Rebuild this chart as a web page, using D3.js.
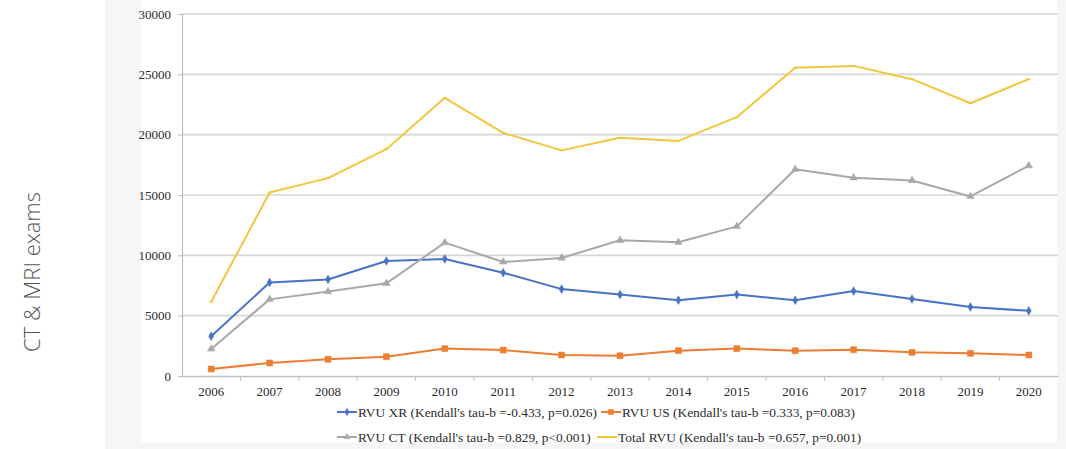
<!DOCTYPE html>
<html>
<head>
<meta charset="utf-8">
<script src="https://cdn.jsdelivr.net/npm/d3@7/dist/d3.min.js"></script>
<style>
  html, body { margin: 0; padding: 0; background: #ffffff; }
  svg { display: block; }
</style>
</head>
<body>
<svg id="chart" width="1066" height="449"></svg>
<script>
// Years on the category axis
const years = ["2006","2007","2008","2009","2010","2011","2012","2013","2014","2015","2016","2017","2018","2019","2020"];

// Relative value units per modality
const rvuXR    = [3300, 7750, 8000, 9530, 9700, 8560, 7200, 6750, 6280, 6750, 6280, 7040, 6380, 5720, 5400];
const rvuUS    = [580, 1080, 1380, 1600, 2270, 2150, 1740, 1680, 2100, 2270, 2100, 2180, 1960, 1880, 1740];
const rvuCT    = [2240, 6350, 7000, 7680, 11050, 9450, 9780, 11250, 11080, 12400, 17130, 16430, 16200, 14880, 17430];
const rvuTotal = [6150, 15200, 16400, 18800, 23050, 20150, 18700, 19750, 19480, 21450, 25550, 25700, 24600, 22600, 24600];

const yTicks = [0, 5000, 10000, 15000, 20000, 25000, 30000];

const seriesNames = [
  "RVU XR (Kendall's tau-b =-0.433, p=0.026)",
  "RVU US (Kendall's tau-b =0.333, p=0.083)",
  "RVU CT (Kendall's tau-b =0.829, p<0.001)",
  "Total RVU (Kendall's tau-b =0.657, p=0.001)"
];

const series = [
  { name: seriesNames[0], values: rvuXR,    color: "#4a72c4", marker: "diamond" },
  { name: seriesNames[1], values: rvuUS,    color: "#ed7d31", marker: "square" },
  { name: seriesNames[2], values: rvuCT,    color: "#a8a8a8", marker: "triangle" },
  { name: seriesNames[3], values: rvuTotal, color: "#f2c63e", marker: "dash" }
];

const svg = d3.select("#chart");
const serif = "'Liberation Serif', 'Times New Roman', serif";

// Page backdrop and chart card
svg.append("rect").attr("x", 105).attr("y", 0).attr("width", 961).attr("height", 449).attr("fill", "#f6f6f6");
svg.append("rect").attr("x", 141).attr("y", 0).attr("width", 916).attr("height", 442).attr("fill", "#ffffff");

// Side caption
svg.append("text")
  .attr("transform", "translate(40,272) rotate(-90)")
  .attr("text-anchor", "middle")
  .attr("font-family", "'Open Sans', sans-serif")
  .attr("font-weight", 300)
  .attr("font-size", 22)
  .attr("fill", "#555555")
  .text("CT & MRI exams");

const plot = { left: 182, right: 1058, top: 14, bottom: 376 };

const x = d3.scaleBand().domain(years).range([plot.left, plot.right]);
const y = d3.scaleLinear().domain([0, 30000]).range([plot.bottom, plot.top]);

// Horizontal gridlines
svg.append("g")
  .selectAll("line")
  .data(yTicks.filter(d => d > 0))
  .join("line")
  .attr("x1", plot.left).attr("x2", plot.right)
  .attr("y1", d => y(d)).attr("y2", d => y(d))
  .attr("stroke", "#d6d6d6").attr("stroke-width", 1.6);

// Y axis
const yAxis = svg.append("g")
  .attr("transform", `translate(${plot.left},0)`)
  .call(d3.axisLeft(y).tickValues(yTicks).tickSize(4).tickPadding(7).tickFormat(d3.format("d")));
yAxis.select(".domain").attr("stroke", "#bfbfbf").attr("stroke-width", 1.2);
yAxis.selectAll(".tick line").attr("stroke", "#bfbfbf");
yAxis.selectAll("text").attr("font-family", serif).attr("font-size", 13).attr("fill", "#2b2b2b");

// X axis with ticks at the category boundaries
const xAxis = svg.append("g")
  .attr("transform", `translate(0,${plot.bottom})`)
  .call(d3.axisBottom(x).tickSize(0).tickPadding(11));
xAxis.select(".domain").attr("stroke", "#bfbfbf").attr("stroke-width", 1.5);
xAxis.selectAll("text").attr("font-family", serif).attr("font-size", 13).attr("fill", "#2b2b2b");
xAxis.selectAll(".boundary")
  .data(years.slice(1))
  .join("line")
  .attr("class", "boundary")
  .attr("x1", d => x(d)).attr("x2", d => x(d))
  .attr("y1", 0).attr("y2", 5)
  .attr("stroke", "#bfbfbf");

// Marker shapes
function markerPath(type, scale) {
  const k = scale || 1;
  switch (type) {
    case "diamond":  return d3.symbol(d3.symbolDiamond, 22 * k)();
    case "square":   return d3.symbol(d3.symbolSquare, 36 * k)();
    case "triangle": return d3.symbol(d3.symbolTriangle, 24 * k)();
    default:         return "M-2,0L2,0";
  }
}

const line = d3.line()
  .x((d, i) => x(years[i]) + x.bandwidth() / 2)
  .y(d => y(d));

// Draw series, total last so it sits on top
series.forEach(s => {
  const g = svg.append("g");
  g.append("path")
    .datum(s.values)
    .attr("d", line)
    .attr("fill", "none")
    .attr("stroke", s.color)
    .attr("stroke-width", 2)
    .attr("stroke-linejoin", "round");
  g.selectAll("path.pt")
    .data(s.values)
    .join("path")
    .attr("class", "pt")
    .attr("transform", (d, i) => `translate(${x(years[i]) + x.bandwidth() / 2},${y(d)})`)
    .attr("d", markerPath(s.marker))
    .attr("fill", s.color)
    .attr("stroke", s.color)
    .attr("stroke-width", s.marker === "dash" ? 1.5 : 0.5);
});

// Legend, two rows
const legendItems = [
  { s: series[0], x: 337, y: 412 },
  { s: series[1], x: 601, y: 412 },
  { s: series[2], x: 337, y: 437 },
  { s: series[3], x: 597, y: 437 }
];
const lg = svg.append("g");
legendItems.forEach(it => {
  const g = lg.append("g").attr("transform", `translate(${it.x},${it.y})`);
  g.append("line").attr("x1", 0).attr("x2", 20).attr("y1", 0).attr("y2", 0)
    .attr("stroke", it.s.color).attr("stroke-width", 2);
  g.append("path").attr("transform", "translate(10,0)")
    .attr("d", markerPath(it.s.marker, 0.7))
    .attr("fill", it.s.color).attr("stroke", it.s.color).attr("stroke-width", 0.5);
  g.append("text")
    .attr("x", 21).attr("y", 4.5)
    .attr("font-family", serif).attr("font-size", 13.4).attr("fill", "#2b2b2b")
    .text(it.s.name);
});
</script>
</body>
</html>
